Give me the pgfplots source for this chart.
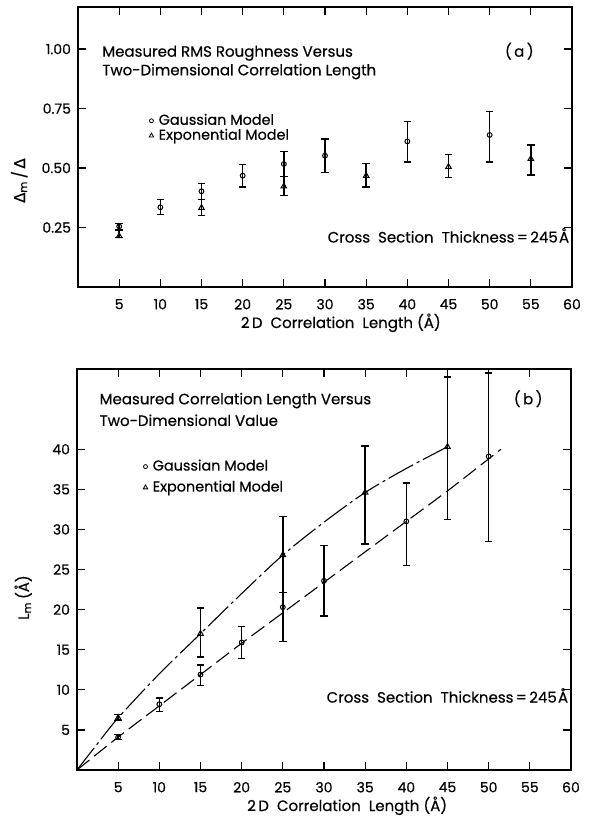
\documentclass[border=0pt]{standalone}
\usepackage{fontspec}
\setmainfont{Poppins}[FakeBold=0.4]
\newfontfamily\dejavu{DejaVu Sans}[FakeBold=0.4]
\usepackage{pgfplots}
\usepackage{pgfplotstable}
\pgfplotsset{compat=1.18}

% top panel: x, value, err+, err-
\pgfplotstableread{
x    y      ep     em
5    0.255  0.012  0.016
10   0.335  0.032  0.030
15   0.402  0.033  0.035
20   0.468  0.048  0.047
25   0.517  0.052  0.052
30   0.552  0.070  0.070
40   0.612  0.084  0.086
50   0.639  0.098  0.113
}\gaussA
\pgfplotstableread{
x    y      ep     em
5    0.214  0.025  0.006
15   0.333  0.034  0.033
25   0.423  0.042  0.038
35   0.468  0.050  0.047
45   0.505  0.052  0.045
55   0.539  0.058  0.068
}\expA
% bottom panel
\pgfplotstableread{
x    y     ep    em
5    4.1   0.3   0.3
10   8.2   0.8   0.9
15   11.9  1.2   1.4
20   15.9  2.0   2.0
25   20.3  1.8   4.3
30   23.6  4.4   4.4
40   31.0  4.8   5.5
50   39.1  10.4  10.6
}\gaussB
\pgfplotstableread{
x    y     ep    em
5    6.5   0.4   0.3
15   17.0  3.2   2.9
25   26.8  4.8   4.7
35   34.6  5.8   6.4
45   40.3  8.7   9.1
}\expB

\tikzset{txt/.style={inner sep=0pt, font=\fontsize{7.5}{8}\selectfont}}
\pgfplotsset{
  panel/.style={
    scale only axis, width=247pt, clip=false,
    xmin=0, xmax=60, xtick={5,10,...,60},
    tick align=inside, major tick length=4pt,
    axis line style={line width=0.8pt},
    every tick/.style={black, line width=0.6pt},
    /pgf/number format/assume math mode=true,
    tick label style={font=\fontsize{7}{8}\selectfont},
    xticklabel style={yshift=-2.5pt},
    label style={font=\fontsize{7.5}{8}\selectfont},
    xlabel={2\,D\ \ Correlation\ \ Length\ (Å)},
    legend style={draw=none, fill=none, font=\fontsize{7.2}{8}\selectfont,
      inner sep=0pt, nodes={inner sep=1pt}, column sep=1.5pt},
    legend cell align=left,
  },
  ebar/.style={only marks, black, line width=0.5pt,
    error bars/y dir=both, error bars/y explicit,
    error bars/error bar style={line width=0.7pt},
    error bars/error mark options={rotate=90, mark size=1.9pt, line width=0.7pt}},
  gmark/.style={mark=o, mark size=1.2pt},
  emark/.style={mark=triangle, mark size=1.6pt},
}

\begin{document}
\begin{tikzpicture}
\path[use as bounding box] (0,0) rectangle (298pt,409pt);

\begin{axis}[panel, at={(39pt,265.5pt)}, anchor=south west, height=140pt,
  ymin=0, ymax=1.177, ytick={0.25,0.5,0.75,1},
  yticklabel style={/pgf/number format/.cd, fixed, fixed zerofill, precision=2},
  ylabel={{\dejavu Δ}\textsubscript{m}\,/\,{\dejavu Δ}},
  ylabel style={at={(axis description cs:-0.119,0.38)}, anchor=center},
  xlabel style={at={(axis description cs:0.532,0)}, anchor=base, yshift=-20.5pt},
  legend style={at={(axis cs:8.6,0.738)}, anchor=north west, row sep=-1.5pt},
]
\addlegendimage{only marks, black, gmark, mark size=1pt}
\addlegendentry{Gaussian Model}
\addlegendimage{only marks, black, emark, mark size=1.3pt}
\addlegendentry{Exponential Model}
\addplot[ebar, gmark, forget plot] table[x=x, y=y, y error plus=ep, y error minus=em] {\gaussA};
\addplot[ebar, emark, forget plot] table[x=x, y=y, y error plus=ep, y error minus=em] {\expA};
\node[txt, anchor=base west] at (axis cs:2.9,0.968) {Measured RMS Roughness Versus};
\node[txt, anchor=base west] at (axis cs:2.9,0.890) {Two-Dimensional Correlation Length};
\node[txt, anchor=base] at (axis cs:53.6,0.968) {(\,a\,)};
\node[txt, anchor=base east] at (axis cs:59.7,0.187) {Cross\ \ Section\ \ Thickness\,=\,245\kern0.6pt{Å}};
\end{axis}

\begin{axis}[panel, at={(38.5pt,24pt)}, anchor=south west, height=200.5pt,
  ymin=0, ymax=50, ytick={5,10,...,40},
  ylabel={L\textsubscript{m}\,(Å)},
  ylabel style={at={(axis description cs:-0.109,0.43)}, anchor=center},
  xlabel style={at={(axis description cs:0.547,0)}, anchor=base, yshift=-20.5pt},
  legend style={at={(axis cs:8.0,39.0)}, anchor=north west, row sep=1.5pt},
]
\addlegendimage{only marks, black, gmark, mark size=1pt}
\addlegendentry{Gaussian Model}
\addlegendimage{only marks, black, emark, mark size=1.3pt}
\addlegendentry{Exponential Model}
\addplot[black, line width=0.55pt, smooth, dash pattern=on 14pt off 2pt on 1.5pt off 2pt, forget plot]
  coordinates {(0,0) (2.5,3.3) (5,6.5) (10,12.0) (15,17.0) (20,22.0) (25,26.8) (30,30.9) (35,34.6) (40,37.6) (45,40.3)};
\addplot[black, line width=0.55pt, smooth, dash pattern=on 8pt off 3pt, forget plot]
  coordinates {(0,0) (5,4.1) (10,8.0) (15,11.9) (20,15.8) (25,19.6) (30,23.4) (35,27.2) (40,31.0) (45,34.8) (51.5,40.0)};
\addplot[ebar, gmark, forget plot] table[x=x, y=y, y error plus=ep, y error minus=em] {\gaussB};
\addplot[ebar, emark, forget plot] table[x=x, y=y, y error plus=ep, y error minus=em] {\expB};
\node[txt, anchor=base west] at (axis cs:2.7,45.6) {Measured Correlation Length Versus};
\node[txt, anchor=base west] at (axis cs:2.7,42.9) {Two-Dimensional Value};
\node[txt, anchor=base] at (axis cs:54.8,45.6) {(\,b\,)};
\node[txt, anchor=base east] at (axis cs:59.7,8.4) {Cross\ \ Section\ \ Thickness\,=\,245\kern0.6pt{Å}};
\end{axis}
\end{tikzpicture}
\end{document}
